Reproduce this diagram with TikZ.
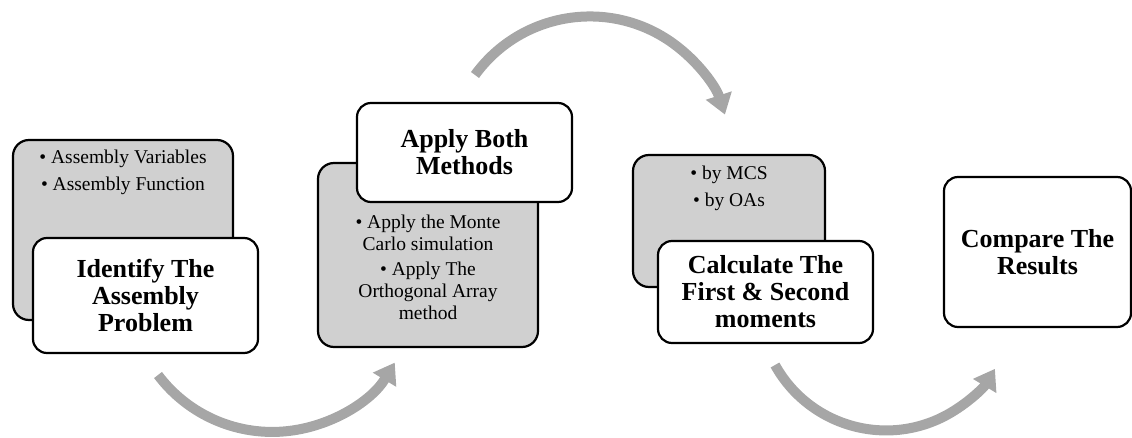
\documentclass[tikz,border=0pt]{standalone}
\usepackage{fontspec}
\setmainfont{Liberation Serif}
\usepackage{tikz}
\usetikzlibrary{arrows.meta,positioning}
\definecolor{boxgray}{RGB}{208,208,208}
\definecolor{arrowgray}{RGB}{166,166,166}

\begin{document}
\begin{tikzpicture}[
    x=1pt, y=1pt,
    node distance=10pt,
    stage/.style={draw, line width=2.2pt, rounded corners=14pt, fill=white, align=center, inner sep=0pt, font=\bfseries\fontsize{26}{27}\selectfont},
    detail/.style={draw, line width=2.2pt, rounded corners=16pt, fill=boxgray, inner sep=0pt},
    bullets/.style={align=center, inner sep=0pt, font=\fontsize{19.5}{22}\selectfont},
    flow/.style={color=arrowgray, line width=10pt, -{Triangle[width=26pt,length=20pt]}}
]
    \useasboundingbox (0,0) rectangle (1132,437);

    % Identify
    \node[detail, minimum width=220pt, minimum height=180pt] (g1) at (123,207) {};
    \node[bullets, below=11pt of g1.north] (b1) {\textbullet{} Assembly Variables\\[5pt]\textbullet{} Assembly Function};
    \node[stage, minimum width=225pt, minimum height=115pt] (s1) at (145.5,141.5) {Identify The\\Assembly\\Problem};

    % Apply
    \node[detail, minimum width=220pt, minimum height=184pt] (g2) at (428,182) {};
    \node[stage, minimum width=215pt, minimum height=99pt] (s2) at (464.5,284.5) {Apply Both\\Methods};
    \node[bullets, above=28pt of g2.south] (b2) {\textbullet{} Apply the Monte\\Carlo simulation\\[3pt]\textbullet{} Apply The\\Orthogonal Array\\method};

    % Calculate
    \node[detail, minimum width=192pt, minimum height=132pt] (g3) at (729,216) {};
    \node[bullets, below=12pt of g3.north] (b3) {\textbullet{} by MCS\\[5pt]\textbullet{} by OAs};
    \node[stage, minimum width=215pt, minimum height=102pt] (s3) at (765.5,145) {Calculate The\\First \& Second\\moments};

    % Compare
    \node[stage, minimum width=187pt, minimum height=150pt] (s4) at (1037.5,185) {Compare The\\Results};

    % flow arrows
    \coordinate (f1) at (158,62);
    \coordinate (f2) at (475,362);
    \coordinate (f3) at (775,72);
    \draw[flow] (f1) arc[start angle=217, end angle=329, radius=143];
    \draw[flow] (f2) arc[start angle=144, end angle=18, radius=142];
    \draw[flow] (f3) arc[start angle=209, end angle=329, radius=127];
\end{tikzpicture}
\end{document}
